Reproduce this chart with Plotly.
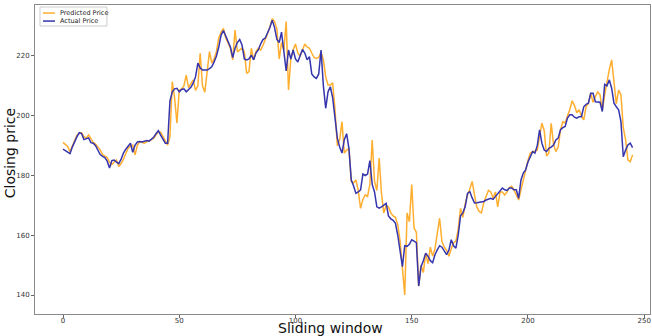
import plotly.graph_objects as go

window_index = list(range(246))

actual_price = [
    188.8, 188.2, 187.6, 187.3, 189.5, 191.5, 193.0, 194.3, 194.0, 192.0,
    192.4, 192.6, 191.0, 190.8, 190.0, 188.5, 187.0, 186.4, 186.0, 184.8,
    182.5, 185.0, 185.2, 184.5, 184.0, 185.5, 187.5, 188.8, 190.0, 190.8,
    187.8, 190.2, 191.2, 191.4, 191.2, 191.5, 191.7, 191.5, 192.0, 192.8,
    194.0, 195.0, 193.5, 192.0, 190.8, 190.8, 205.0, 208.0, 209.0, 209.2,
    208.0, 208.8, 209.0, 208.0, 208.8, 209.5, 210.9, 213.0, 217.6, 216.0,
    215.3, 215.3, 215.3, 215.8, 216.4, 218.0, 220.0, 223.0, 227.0, 228.5,
    226.8, 224.5, 223.0, 219.5, 222.6, 224.5, 225.5, 223.7, 219.0, 218.7,
    219.0, 220.3, 218.7, 221.0, 222.0, 224.0, 225.5, 226.0, 227.5, 229.5,
    232.0, 229.5, 225.5, 224.5, 228.0, 220.9, 215.0, 222.0, 219.0, 222.0,
    219.0, 218.0, 220.5, 222.2, 221.0, 218.7, 219.8, 214.0, 213.0, 212.5,
    214.0, 222.0, 210.0, 202.5, 208.0, 209.7, 206.0, 199.0, 192.5, 189.5,
    187.5, 192.0, 194.0, 189.0, 178.5, 176.5, 174.0, 174.5, 175.2, 180.5,
    180.0, 180.5, 185.0, 177.0, 174.5, 169.5, 169.1, 169.5, 170.0, 170.7,
    166.5, 165.5, 165.0, 164.0, 160.0, 154.0, 149.5, 156.5, 156.3, 157.0,
    158.5, 158.0, 157.5, 143.0, 149.5, 151.5, 154.0, 153.0, 151.5, 150.8,
    153.5, 155.1, 156.5, 156.0, 154.5, 153.5, 155.0, 158.5, 156.5, 155.7,
    160.0, 166.5, 167.5, 169.5, 174.0, 174.6, 172.5, 170.8, 170.9, 171.0,
    171.3, 171.3, 171.8, 172.0, 172.4, 172.0, 173.0, 174.2, 175.2, 175.8,
    175.2, 175.0, 175.8, 175.8, 175.2, 175.2, 172.4, 178.5, 180.8, 181.9,
    184.5, 186.5, 188.0, 187.5, 190.0, 195.3, 190.8, 188.5, 188.0, 189.1,
    189.5, 190.2, 191.9, 192.5, 195.3, 196.0, 196.4, 199.2, 200.3, 200.3,
    199.5, 199.2, 199.7, 199.7, 203.0, 203.8, 204.2, 207.5, 207.5, 204.7,
    204.7, 204.5, 201.4, 210.5, 210.0, 212.0, 209.2, 204.2, 203.0, 202.0,
    198.0, 186.3, 188.5, 190.2, 190.8, 189.3,
]

predicted_price = [
    191.1, 190.5, 189.7, 188.0, 190.0, 192.0, 193.5, 194.2, 194.3, 193.0,
    192.5, 193.6, 192.5, 191.1, 190.5, 189.5, 188.6, 187.0, 186.5, 186.0,
    184.4, 183.6, 184.5, 185.2, 183.0, 184.0, 185.5, 187.5, 189.1, 189.8,
    190.2, 186.9, 190.2, 191.3, 191.0, 190.8, 191.3, 191.5, 191.9, 192.5,
    193.6, 194.7, 194.5, 193.0, 191.5, 190.2, 193.0, 211.4, 206.0, 197.5,
    208.5, 209.0, 210.0, 213.6, 209.4, 210.5, 212.0, 208.5, 210.0, 220.9,
    210.0, 207.9, 215.0, 221.5, 217.6, 219.0, 221.5, 226.0, 228.0, 229.2,
    226.0, 224.0, 222.6, 218.7, 228.7, 221.4, 222.0, 222.6, 221.4, 214.2,
    214.8, 222.6, 218.7, 221.5, 222.6, 222.0, 223.5, 225.9, 227.5, 229.8,
    232.5, 231.5, 229.0, 219.0, 224.5, 222.0, 231.5, 208.6, 219.0, 222.0,
    224.0, 221.0, 220.0, 222.0, 224.0, 223.0, 222.6, 221.0, 219.5, 219.2,
    219.5, 221.3, 218.7, 213.0, 210.3, 210.3, 211.0, 202.0, 190.0, 192.0,
    198.0, 187.5, 188.5, 189.0, 178.0, 177.5, 178.5, 175.0, 169.0, 172.0,
    173.5, 173.0, 177.0, 191.9, 178.0, 175.0, 185.8, 174.0, 167.4, 170.0,
    169.5, 167.5, 166.5, 166.0, 163.5, 158.0, 147.3, 140.0, 167.5, 164.5,
    177.0, 162.4, 161.0, 143.0, 150.0, 147.5, 154.0, 150.5, 156.0, 153.0,
    155.5, 160.0, 165.7, 157.9, 156.0, 155.0, 153.0, 155.5, 157.5, 158.0,
    162.0, 169.0, 166.0, 170.5, 173.5, 175.5, 178.0, 173.5, 169.5, 168.0,
    167.5, 171.0, 173.3, 175.0, 174.5, 172.5, 174.5, 169.5, 174.5, 174.5,
    173.5, 174.5, 176.0, 176.4, 175.2, 173.5, 171.8, 175.2, 178.5, 182.0,
    185.0, 187.5, 188.0, 188.2, 188.5, 193.0, 197.5, 195.0, 186.5, 187.5,
    197.5, 190.5, 188.0, 189.5, 195.3, 198.0, 197.5, 200.0, 202.0, 205.0,
    203.5, 201.0, 202.0, 200.0, 198.6, 203.0, 204.2, 207.5, 204.5, 206.4,
    208.0, 207.0, 202.0, 207.0, 212.0, 215.5, 218.7, 211.0, 204.0, 208.6,
    207.0, 196.0, 192.0, 185.2, 184.6, 186.9,
]

x_ticks = [0, 50, 100, 150, 200, 250]
y_ticks = [140, 160, 180, 200, 220]

series_names = ["Predicted Price", "Actual Price"]
series_colors = ["#FFAE30", "#3535AE"]
x_title = "Sliding window"
y_title = "Closing price"

fig = go.Figure()
fig.add_trace(go.Scatter(x=window_index, y=predicted_price, mode="lines",
                         name=series_names[0],
                         line=dict(color=series_colors[0], width=1.5)))
fig.add_trace(go.Scatter(x=window_index, y=actual_price, mode="lines",
                         name=series_names[1],
                         line=dict(color=series_colors[1], width=1.5)))

axis_common = dict(showgrid=False, zeroline=False, showline=True, mirror=True,
                   linecolor="#8a8a8a", linewidth=1, ticks="outside",
                   ticklen=3, tickwidth=1, tickcolor="#666666", automargin=False,
                   tickfont=dict(family="DejaVu Sans", size=7, color="#333333"))

fig.update_layout(
    width=652, height=336,
    margin=dict(l=35, r=2, t=5, b=22),
    paper_bgcolor="white", plot_bgcolor="white",
    showlegend=False,
    xaxis=dict(range=[-12.05, 252.5], tickvals=x_ticks, ticklabelstandoff=-3,
               **axis_common),
    yaxis=dict(range=[133.65, 237.06], tickvals=y_ticks, **axis_common),
)

# axis titles
fig.add_annotation(x=0.481, y=-0.0777, xref="paper", yref="paper", text=x_title,
                   showarrow=False, xanchor="center", yanchor="bottom",
                   font=dict(family="DejaVu Sans", size=14, color="#111111"))
fig.add_annotation(x=-0.0407, y=0.52, xref="paper", yref="paper", text=y_title,
                   showarrow=False, xanchor="center", yanchor="middle", textangle=-90,
                   font=dict(family="DejaVu Sans", size=14, color="#111111"))

# legend box (upper left, matplotlib style)
fig.add_shape(type="rect", xref="paper", yref="paper",
              x0=0.0081, x1=0.117, y0=0.932, y1=0.9935,
              line=dict(color="#cccccc", width=1), fillcolor="white", layer="above")
legend_rows = [0.974, 0.948]
for name, color, yy in zip(series_names, series_colors, legend_rows):
    fig.add_shape(type="line", xref="paper", yref="paper",
                  x0=0.013, x1=0.0325, y0=yy, y1=yy,
                  line=dict(color=color, width=1.5), layer="above")
    fig.add_annotation(x=0.0374, y=yy, xref="paper", yref="paper",
                       text=name, showarrow=False, xanchor="left", yanchor="middle",
                       font=dict(family="DejaVu Sans", size=6.5, color="#222222"))

fig.write_html("out.html", config={"displayModeBar": False},
               post_script="document.body.style.margin='0';document.body.style.overflow='hidden';")
